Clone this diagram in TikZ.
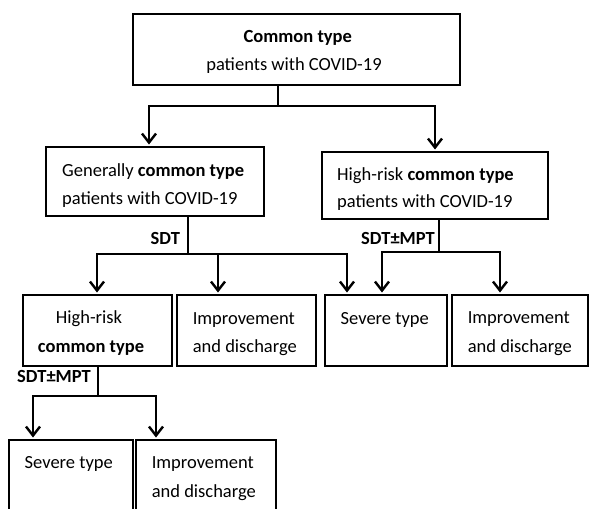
\documentclass[tikz,border=0pt]{standalone}
\usepackage{fontspec}
\setmainfont{Carlito}
\usetikzlibrary{arrows.meta}
\begin{document}
\begin{tikzpicture}[x=1pt,y=-1pt,
  box/.style={draw=black, line width=2.6pt, inner sep=0pt, rectangle},
  conn/.style={line width=2.4pt, line cap=rect},
  arr/.style={line width=2.4pt, -{Straight Barb[length=9pt,width=14pt]}, shorten >=1.2pt},
  txt/.style={inner sep=0pt, anchor=base west, font=\fontsize{18.5}{22}\selectfont},
  ctxt/.style={txt, anchor=base},
  lbl/.style={inner sep=0pt, anchor=base west, font=\fontsize{18.5}{22}\selectfont\bfseries}]
\fill[white] (0,0) rectangle (590,509);
\clip (0,0) rectangle (590,509);
% boxes
\node[box, minimum width=327pt, minimum height=71pt] (top) at (296.5,49.5) {};
\node[box, minimum width=218pt, minimum height=69pt] (gen) at (155,181.5) {};
\node[box, minimum width=226pt, minimum height=67pt] (hrc) at (435,185.5) {};
\node[box, minimum width=149pt, minimum height=71pt] (hr3) at (97.5,330.5) {};
\node[box, minimum width=139pt, minimum height=71pt] (imp1) at (246.5,330.5) {};
\node[box, minimum width=122pt, minimum height=71pt] (sev1) at (386,330.5) {};
\node[box, minimum width=136pt, minimum height=71pt] (imp2) at (520,330.5) {};
\node[box, minimum width=124pt, minimum height=90pt] (sev2) at (71,485) {};
\node[box, minimum width=140pt, minimum height=90pt] (imp3) at (206,485) {};
% texts
\node[ctxt] (t1) at (297.8,42.5) {\bfseries Common type};
\node[ctxt] (t2) at (294,70.5) {patients with COVID-19};
\node[txt] (g1) at (62,176) {Generally \textbf{common type}};
\node[txt] (g2) at (62,204) {patients with COVID-19};
\node[txt] (h1) at (337,180) {High-risk \textbf{common type}};
\node[txt] (h2) at (337,207) {patients with COVID-19};
\node[ctxt] (r1) at (89,323) {High-risk};
\node[ctxt] (r2) at (91,352) {\bfseries common type};
\node[txt] (i1a) at (192.6,324) {Improvement};
\node[txt] (i1b) at (192.6,352) {and discharge};
\node[txt] (s1) at (340.5,324) {Severe type};
\node[txt] (i2a) at (467.6,323) {Improvement};
\node[txt] (i2b) at (467.6,352) {and discharge};
\node[txt] (s2) at (24.5,468) {Severe type};
\node[txt] (i3a) at (151.6,468) {Improvement};
\node[txt] (i3b) at (151.6,497) {and discharge};
% labels
\node[lbl] (l1) at (150.5,244) {SDT};
\node[lbl] (l2) at (361,244) {SDT±MPT};
\node[lbl] (l3) at (17,382) {SDT±MPT};
% junction coordinates
\coordinate (ja) at (278,106);
\coordinate (jal) at (149,106);
\coordinate (jar) at (435,106);
\coordinate (jb) at (188,254);
\coordinate (jbl) at (97,254);
\coordinate (jbm) at (218,254);
\coordinate (jbr) at (347,254);
\coordinate (jc) at (439,252);
\coordinate (jcl) at (382,252);
\coordinate (jcr) at (500,252);
\coordinate (jd) at (98,396);
\coordinate (jdl) at (33,396);
\coordinate (jdr) at (156,396);
% connectors
\draw[conn] (top.south -| ja) -- (ja);
\draw[conn] (jal) -- (jar);
\draw[arr] (jal) -- (jal |- gen.north);
\draw[arr] (jar) -- (jar |- hrc.north);
\draw[conn] (gen.south -| jb) -- (jb);
\draw[conn] (jbl) -- (jbr);
\draw[arr] (jbl) -- (jbl |- hr3.north);
\draw[arr] (jbm) -- (jbm |- imp1.north);
\draw[arr] (jbr) -- (jbr |- sev1.north);
\draw[conn] (hrc.south -| jc) -- (jc);
\draw[conn] (jcl) -- (jcr);
\draw[arr] (jcl) -- (jcl |- sev1.north);
\draw[arr] (jcr) -- (jcr |- imp2.north);
\draw[conn] (hr3.south -| jd) -- (jd);
\draw[conn] (jdl) -- (jdr);
\draw[arr] (jdl) -- (jdl |- sev2.north);
\draw[arr] (jdr) -- (jdr |- imp3.north);
\end{tikzpicture}
\end{document}
